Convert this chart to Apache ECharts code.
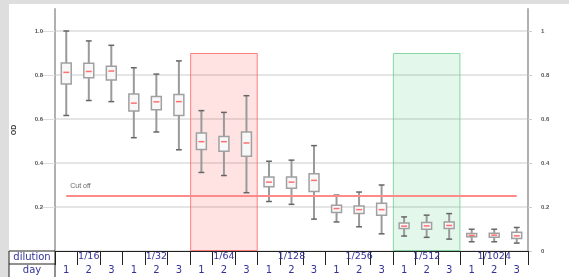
<!DOCTYPE html>
<html>
<head>
<meta charset="utf-8">
<script src="https://cdn.jsdelivr.net/npm/echarts@6/dist/echarts.min.js"></script>
<style>
html,body{margin:0;padding:0;background:#fff}
#main{width:569px;height:277px}
</style>
</head>
<body>
<div id="main"></div>
<script>
//稀释度与天数
const dilutions = ['1/16','1/32','1/64','1/128','1/256','1/512','1/1024'];
const days = ['1','2','3'];
//每个稀释度 x 天数 的箱线数据
const lowVals  = [0.616,0.684,0.679, 0.515,0.541,0.460, 0.357,0.343,0.265, 0.225,0.212,0.145, 0.132,0.110,0.078, 0.068,0.062,0.054, 0.042,0.042,0.036];
const q1Vals   = [0.759,0.788,0.777, 0.636,0.642,0.616, 0.461,0.453,0.431, 0.292,0.285,0.271, 0.175,0.170,0.163, 0.102,0.099,0.102, 0.065,0.063,0.057];
const medVals  = [0.812,0.816,0.818, 0.672,0.678,0.679, 0.497,0.497,0.491, 0.313,0.313,0.321, 0.193,0.188,0.188, 0.113,0.114,0.116, 0.071,0.072,0.069];
const q3Vals   = [0.855,0.853,0.840, 0.714,0.702,0.711, 0.536,0.521,0.541, 0.336,0.336,0.351, 0.208,0.205,0.217, 0.127,0.130,0.132, 0.080,0.081,0.085];
const highVals = [1.000,0.955,0.935, 0.833,0.804,0.864, 0.638,0.630,0.706, 0.408,0.413,0.479, 0.254,0.268,0.300, 0.155,0.163,0.170, 0.099,0.099,0.107];
const cutOff = 0.25;
//高亮区域顶部
const shadeTop = [null,null,0.9,null,null,0.9,null];
const yTicks = [0,0.2,0.4,0.6,0.8,1.0];

let chart = echarts.init(document.getElementById('main'), null, {renderer:'canvas'});

let dayCats = [];
for(let d of dilutions){
    for(let x of days) dayCats.push(x);
}
let boxData = [];
for(let i in dayCats){
    boxData.push([+i, lowVals[i], q1Vals[i], medVals[i], q3Vals[i], highVals[i]]);
}
const shadeStyle = {
    '1/64': {color:'rgba(255,60,60,0.14)', borderColor:'rgba(255,90,90,0.75)'},
    '1/512': {color:'rgba(40,190,100,0.13)', borderColor:'rgba(90,200,130,0.7)'}
};
let shadeData = shadeTop.map((v,i) => v == null ? '-' : {
    value: v,
    itemStyle: {color: shadeStyle[dilutions[i]].color, borderColor: shadeStyle[dilutions[i]].borderColor, borderWidth: 1}
});

function renderBox(params, api){
    let x = api.value(0);
    let pLow = api.coord([x, api.value(1)]);
    let pQ1 = api.coord([x, api.value(2)]);
    let pMed = api.coord([x, api.value(3)]);
    let pQ3 = api.coord([x, api.value(4)]);
    let pHigh = api.coord([x, api.value(5)]);
    let band = api.size([1, 0])[0];
    let bw = band * 0.44, cw = band * 0.26;
    let cx = pMed[0];
    return {
        type: 'group',
        children: [
            {type:'line', shape:{x1:cx, y1:pHigh[1], x2:cx, y2:pLow[1]}, style:{stroke:'#9a9a9a', lineWidth:2}},
            {type:'line', shape:{x1:cx-cw/2, y1:pHigh[1], x2:cx+cw/2, y2:pHigh[1]}, style:{stroke:'#666', lineWidth:1.5}},
            {type:'line', shape:{x1:cx-cw/2, y1:pLow[1], x2:cx+cw/2, y2:pLow[1]}, style:{stroke:'#666', lineWidth:1.5}},
            {type:'rect', shape:{x:cx-bw/2, y:pQ3[1], width:bw, height:pQ1[1]-pQ3[1]}, style:{fill:'#f8f8f8', stroke:'#a0a0a0', lineWidth:1.5}},
            {type:'line', shape:{x1:cx-bw/2+2, y1:pMed[1], x2:cx+bw/2-2, y2:pMed[1]}, style:{stroke:'#ff6f6f', lineWidth:1.5}}
        ]
    };
}

const tableColor = '#333399';
let option = {
    animation: false,
    backgroundColor: '#fff',
    grid: {left:55, right:41, top:9, bottom:26},
    xAxis: [
        {
            type: 'category',
            data: dayCats,
            position: 'bottom',
            offset: 13,
            axisLine: {lineStyle:{color:'#222', width:1}},
            axisTick: {show:true, interval:0, length:14, lineStyle:{color:'#222'}},
            axisLabel: {interval:0, margin:1, fontSize:10, lineHeight:11, fontFamily:'DejaVu Sans', color:tableColor},
            splitLine: {show:false}
        },
        {
            type: 'category',
            data: dilutions,
            position: 'bottom',
            offset: 0,
            axisLine: {lineStyle:{color:'#222', width:1}},
            axisTick: {show:true, interval:0, length:13, lineStyle:{color:'#222'}},
            axisLabel: {interval:0, margin:0, fontSize:9.5, lineHeight:11, fontFamily:'DejaVu Sans', color:tableColor},
            splitLine: {show:false}
        }
    ],
    yAxis: [
        {
            type: 'value',
            min: 0, max: 1.1, interval: 0.2,
            position: 'left',
            name: 'OD',
            nameLocation: 'middle',
            nameGap: 37,
            nameRotate: 90,
            nameTextStyle: {fontSize:7, fontWeight:'bold', color:'#444'},
            axisLine: {show:true, lineStyle:{color:'#b0b0b0', width:2}},
            axisTick: {show:true, length:14, customValues:yTicks, lineStyle:{color:'#dcdcdc'}},
            axisLabel: {
                customValues: yTicks,
                margin: 12, fontSize: 6, fontWeight:'bold', color:'#555',
                formatter: v => v === 0 || v > 1.05 ? '' : (v === 1 ? '1.0' : String(v))
            },
            splitLine: {show:true, lineStyle:{color:['#dcdcdc','#dcdcdc','#dcdcdc','#dcdcdc','#dcdcdc','#dcdcdc','transparent'], width:1.5}}
        },
        {
            type: 'value',
            min: 0, max: 1.1, interval: 0.2,
            position: 'right',
            axisLine: {show:true, lineStyle:{color:'#b0b0b0', width:2}},
            axisTick: {show:true, length:4, customValues:yTicks, lineStyle:{color:'#ccc'}},
            axisLabel: {
                customValues: yTicks,
                margin: 13, fontSize: 6, fontWeight:'bold', color:'#555',
                formatter: v => v > 1.05 ? '' : String(v)
            },
            splitLine: {show:false}
        }
    ],
    series: [
        {
            name: 'shade',
            type: 'bar',
            xAxisIndex: 1,
            yAxisIndex: 0,
            barWidth: '100%',
            z: 1,
            silent: true,
            data: shadeData
        },
        {
            name: 'box',
            type: 'custom',
            xAxisIndex: 0,
            yAxisIndex: 0,
            z: 3,
            renderItem: renderBox,
            encode: {x:0, y:[1,2,3,4,5]},
            data: boxData,
            markLine: {
                silent: true,
                symbol: ['none','none'],
                lineStyle: {color:'#ff8a8a', width:2, type:'solid'},
                label: {show:true, formatter:'Cut off', position:'insideStartTop', fontSize:7, color:'#666', distance:[4,6]},
                data: [[{coord:[0, cutOff]}, {coord:[dayCats.length-1, cutOff]}]]
            }
        }
    ],
    graphic: [
        {type:'rect', shape:{x:0, y:0, width:9, height:277}, style:{fill:'#dedede'}, z:10},
        {type:'rect', shape:{x:0, y:0, width:569, height:4}, style:{fill:'#dedede'}, z:10},
        {type:'rect', shape:{x:9, y:251, width:46, height:30}, style:{fill:'#fff', stroke:'#222', lineWidth:1}, z:10},
        {type:'line', shape:{x1:9, y1:264, x2:55, y2:264}, style:{stroke:'#222', lineWidth:1}, z:10},
        {type:'text', x:32, y:257.5, style:{text:'dilution', fontSize:10, fontFamily:'DejaVu Sans', fill:tableColor, align:'center', verticalAlign:'middle'}, z:11},
        {type:'text', x:32, y:270.5, style:{text:'day', fontSize:10, fontFamily:'DejaVu Sans', fill:tableColor, align:'center', verticalAlign:'middle'}, z:11}
    ]
};
chart.setOption(option);
</script>
</body>
</html>
